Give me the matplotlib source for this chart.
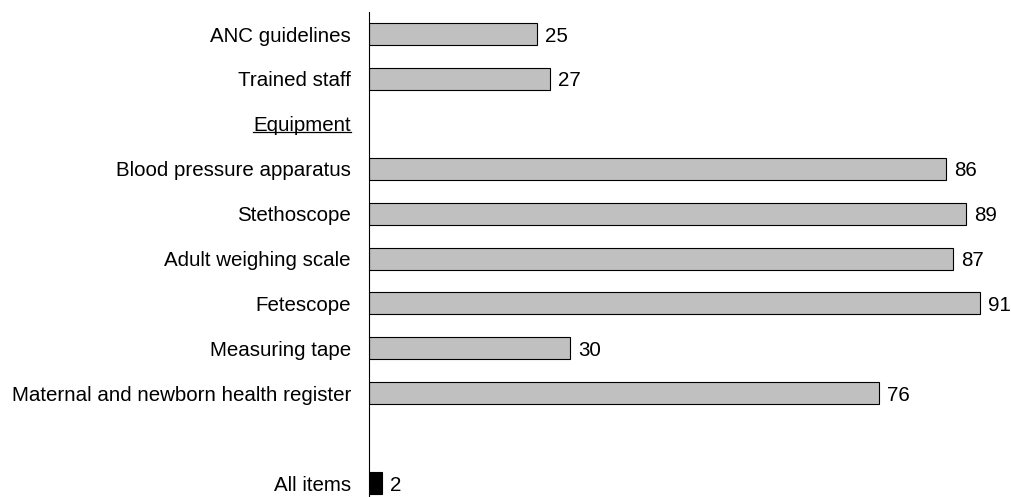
import matplotlib.pyplot as plt
import numpy as np
from matplotlib.lines import Line2D

plt.rcParams['font.family'] = ['Liberation Sans', 'DejaVu Sans']

labels = ['ANC guidelines', 'Trained staff', 'Equipment',
          'Blood pressure apparatus', 'Stethoscope', 'Adult weighing scale',
          'Fetescope', 'Measuring tape', 'Maternal and newborn health register',
          '', 'All items']
values = [25, 27, None, 86, 89, 87, 91, 30, 76, None, 2]
colors = ['#c0c0c0'] * 10 + ['black']

fig = plt.figure(figsize=(10.11, 4.97), dpi=100)
ax = fig.add_axes([369/1011, 0, 631/1011, 485/497])

fontsize = 14.8
for i, v in enumerate(values):
    if v is None:
        continue
    ax.barh(i, v, height=0.49, color=colors[i], edgecolor='black', lw=0.8)
    ax.text(v + 1.2, i, str(v), ha='left', va='center_baseline', fontsize=fontsize)

ax.set_xlim(0, 94.0)
ax.set_ylim(10.31, -0.49)
ax.set_yticks(np.arange(len(labels)))
ax.set_yticklabels(labels, fontsize=fontsize)
ax.tick_params(axis='y', length=0, pad=13)
ax.set_xticks([])
for s in ['top', 'right', 'bottom']:
    ax.spines[s].set_visible(False)
ax.spines['left'].set_linewidth(0.8)

# underline the Equipment header
fig.canvas.draw()
r = fig.canvas.get_renderer()
lab = ax.get_yticklabels()[2]
bb = lab.get_window_extent(r).transformed(fig.transFigure.inverted())
fig.add_artist(Line2D([bb.x0, bb.x1], [bb.y0 + 0.006, bb.y0 + 0.006],
                      transform=fig.transFigure, color='black', lw=0.9))

plt.savefig('out.png', dpi=100)
